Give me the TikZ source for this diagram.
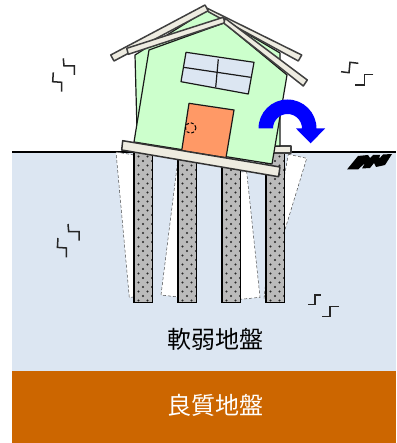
\documentclass[tikz,border=0pt]{standalone}
\usepackage{fontspec}
\newfontfamily\jpfont{Noto Sans CJK JP}
\definecolor{softsoil}{HTML}{DCE6F2}
\definecolor{firmsoil}{HTML}{CC6600}
\definecolor{wall}{HTML}{CCFFCC}
\definecolor{timber}{HTML}{EEECE1}
\definecolor{doorfill}{HTML}{FF9966}
\definecolor{pilefill}{HTML}{BBBBBB}
\tikzset{
  void/.style={fill=white,draw=black!70,densely dashed,line width=.5pt},
  pilebody/.style={draw=black,line width=1.4pt,fill=pilefill},
  beam/.style={draw=black!75,line width=1.5pt,fill=timber,line join=round},
  housepart/.style={draw=black!90,line width=1.2pt,line join=round},
  crack/.style={draw=black!85,line width=1.5pt},
  groundlabel/.style={font=\jpfont\fontsize{24}{24}\selectfont,inner sep=0pt}
}
\begin{document}
\begin{tikzpicture}[x=1pt,y=-1pt]
\useasboundingbox (0,0) rectangle (396,443);
% ground layers
\fill[softsoil] (12,152) rectangle (396,371);
\fill[firmsoil] (12,371) rectangle (396,443);
\draw[line width=2.2pt] (12,152) -- (396,152);
% gaps opened beside the piles
\draw[void] (116,152) -- (134,155) -- (134,297) -- (129.3,297.5) -- cycle;
\draw[void] (177.5,163) -- (161,295) -- (178,297) -- cycle;
\draw[void] (240.7,172) -- (246.7,172) -- (260,297.3) -- (240.7,299.3) -- cycle;
\draw[void] (288.3,154.3) -- (306.7,158.3) -- (264,298.5) -- (266,280) -- cycle;
% piles with their dot texture
\foreach \px/\name in {134/pa,178/pb,222/pc,266/pd}{
  \draw[pilebody] (\px,150) rectangle (\px+18.7,302.7);
  \begin{scope}
    \clip (\px,150) rectangle (\px+18.7,302.7);
    \foreach \row in {0,...,34}{
      \pgfmathsetmacro{\ox}{mod(\row,2)*4.5}
      \foreach \col in {0,1,2}{
        \fill[black!85] (\px+\ox+\col*9,152+\row*4.5) circle (1.1pt);
      }
    }
  \end{scope}
  \draw[draw=black,line width=1.4pt] (\px,150) rectangle (\px+18.7,302.7);
}
% block under the raised corner
\draw[beam,fill=timber] (272,146) -- (291,146) -- (291,153) -- (272,153) -- cycle;
% rear wall of the house
\draw[housepart,fill=wall] (135,55) -- (207,10) -- (280,53) -- (280,146) -- (272,146) -- (137,130) -- cycle;
% rear roof
\draw[beam] (110.7,55) -- (205,5) -- (208.3,10.7) -- (114,61) -- cycle;
\draw[beam] (207.3,8.3) -- (301.7,55) -- (298.3,61) -- (208.3,11.7) -- cycle;
% front wall
\draw[housepart,fill=wall] (149,50) -- (224,23) -- (287,75) -- (272,164) -- (134,142) -- cycle;
% window
\draw[housepart,fill=softsoil] (186,52.3) -- (254,62.3) -- (248.3,94) -- (181,81.7) -- cycle;
\draw[housepart] (218.3,59.3) -- (215.7,87.3);
\draw[housepart] (183.3,67.3) -- (250.7,77.3);
% door
\draw[housepart,fill=doorfill] (189,103.3) -- (234,110) -- (226,157.7) -- (181.7,150.7) -- cycle;
\draw[black,densely dashed,line width=1pt] (190.7,128) circle (5.3pt);
% front roof
\draw[beam] (126.7,48.3) -- (223.3,17.3) -- (225,22.7) -- (128.3,54.3) -- cycle;
\draw[beam] (225,18.3) -- (307.3,80) -- (303.3,86) -- (224,23.3) -- cycle;
% foundation slab
\draw[beam,draw=black!80] (122.7,140.7) -- (280,167) -- (278.5,176.7) -- (121.7,150) -- cycle;
% tilt arrow
\fill[blue] (258.5,128.5) arc[start angle=180,end angle=0,radius=29pt] -- (296,128.5)
  -- (325,128.5) -- (310.7,143.3) -- (296,128.5)
  -- (302,128.5) arc[start angle=0,end angle=180,radius=14.5pt] -- cycle;
% fissure marks
\draw[crack] (63.3,58.3) -- (64,66) -- (74.3,66) -- (74.3,75);
\draw[crack] (53.3,72.3) -- (52.7,81.7) -- (61.7,82.3) -- (61.7,91.7);
\draw[crack] (68,224) -- (68.7,231.7) -- (79,231.7) -- (79,240.7);
\draw[crack] (58,238) -- (57.4,247.4) -- (66.4,248) -- (66.4,257.4);
\draw[crack] (358.3,63.3) -- (350,62.3) -- (349,72.7) -- (341,71.7);
\draw[crack] (373.3,74.3) -- (364.3,74.3) -- (364.3,85) -- (355.3,85);
\draw[crack] (320.7,295) -- (315,295) -- (315,304.3) -- (308.3,304.3);
\draw[crack] (339,306.7) -- (330,306.7) -- (330,316.7) -- (322.3,316.7);
% hatched ground symbol
\fill[black] (347,169.5) -- (358,156) -- (368,155) -- (370,158) -- (373,155) -- (380,155) -- (379,159) -- (383,154.5) -- (392,154) -- (385,165) -- (376,167) -- (374,163) -- (370,168) -- (362,168.5) -- (365,163) -- (358,169.5) -- cycle;
% layer names
\node[groundlabel,text=black] (soft) at (215,339) {軟弱地盤};
\node[groundlabel,text=white] (firm) at (215,405) {良質地盤};
\end{tikzpicture}
\end{document}
